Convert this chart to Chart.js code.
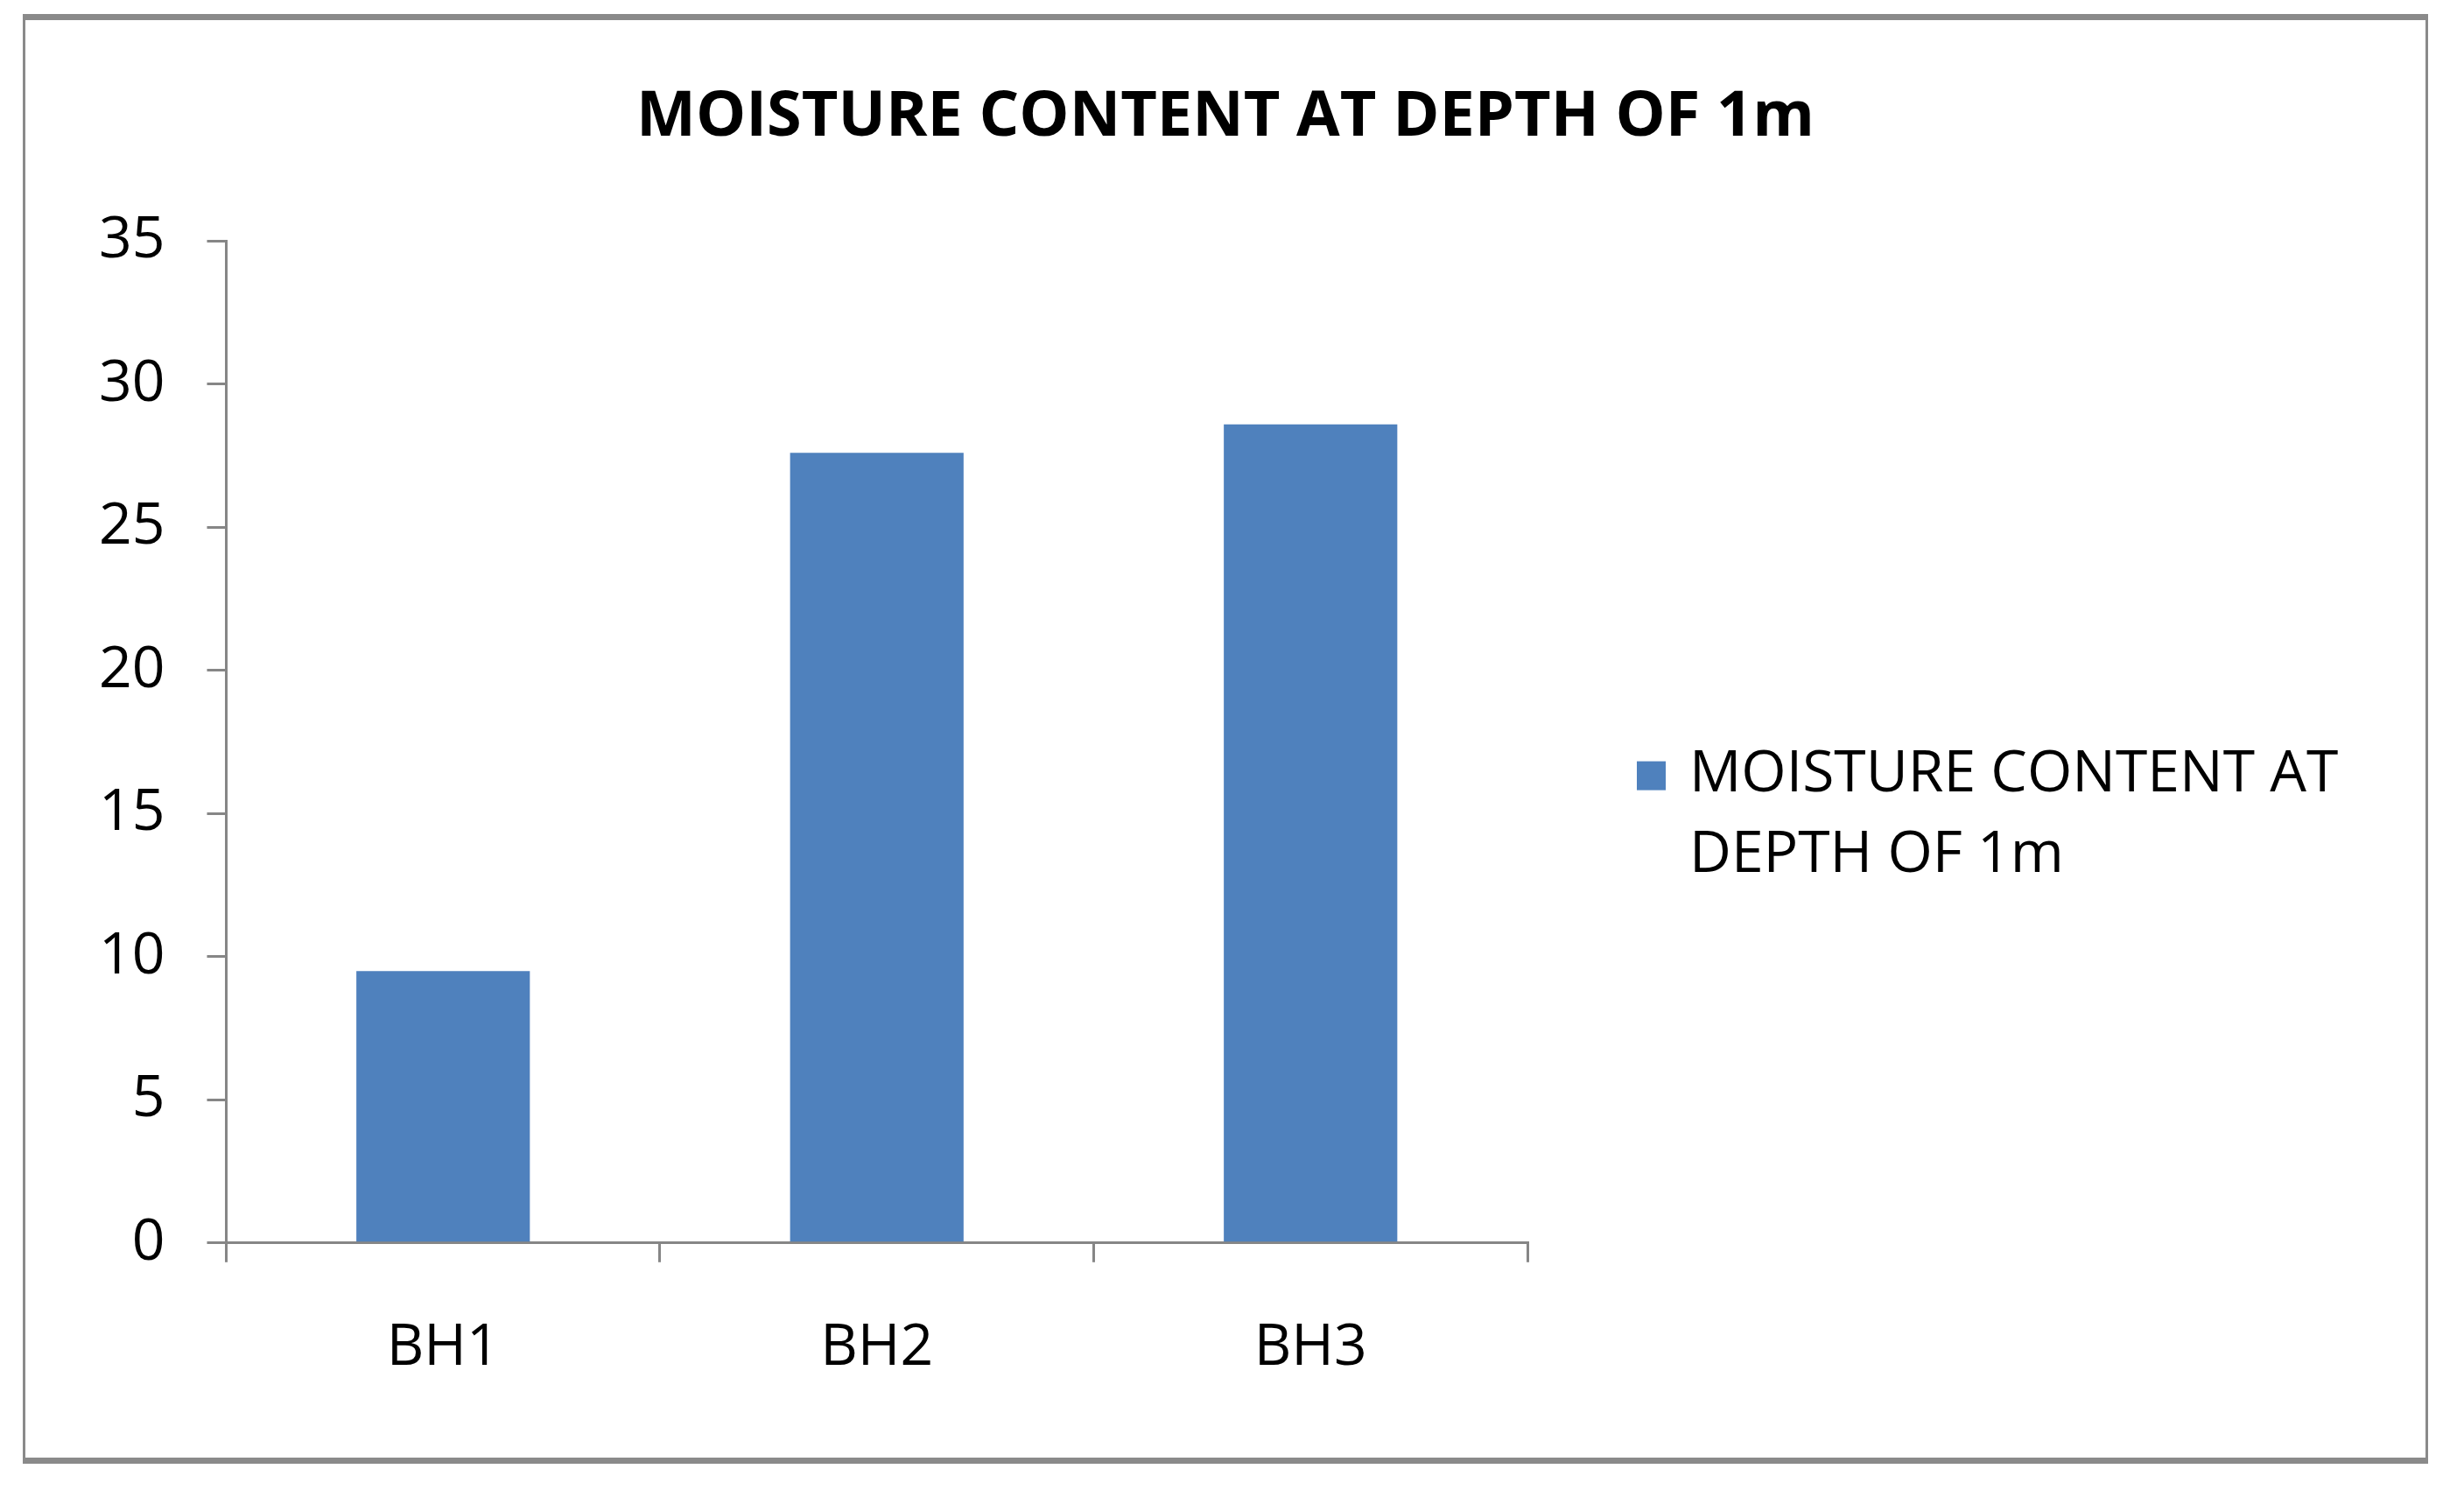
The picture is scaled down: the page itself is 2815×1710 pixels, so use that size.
<!DOCTYPE html>
<html>
<head>
<meta charset="utf-8">
<script src="https://cdn.jsdelivr.net/npm/chart.js@4.4.1/dist/chart.umd.min.js"></script>
<style>
  html, body { margin: 0; padding: 0; background: #fff; }
  body { width: 2815px; height: 1710px; position: relative; overflow: hidden; }
  #frame {
    position: absolute; left: 26px; top: 16px;
    width: 2748px; height: 1656px; box-sizing: border-box;
    border-left: 3px solid #8a8a8a; border-right: 3px solid #8a8a8a;
    border-top: 7px solid #8a8a8a; border-bottom: 7px solid #8a8a8a;
    background: #fff;
  }
  #myChart { display: block; }
</style>
</head>
<body>
<div id="frame"><canvas id="myChart" width="2742" height="1642"></canvas></div>
<script>
const title = 'MOISTURE CONTENT AT DEPTH OF 1m'
const boreholes = ['BH1', 'BH2', 'BH3']
const moisture = [9.5, 27.6, 28.6]
const legendLines = ['MOISTURE CONTENT AT', 'DEPTH OF 1m']
const yTicks = [0, 5, 10, 15, 20, 25, 30, 35]

const axisGrey = '#868686'
const fontFamily = "'Open Sans', 'Noto Sans', sans-serif"

// the built-in legend can't get wide enough on the right, so draw it here
const sideLegend = {
    id: 'sideLegend',
    afterDraw(chart) {
        const {ctx, chartArea} = chart
        const ds = chart.data.datasets[0]
        const boxX = chartArea.right + 125
        const midY = (chartArea.top + chartArea.bottom) / 2 + 84
        const lineGap = 92
        const firstY = midY - lineGap / 2

        ctx.save()
        ctx.fillStyle = ds.backgroundColor
        ctx.fillRect(boxX, firstY - 16, 33, 33)
        ctx.fillStyle = '#000'
        ctx.font = '66px ' + fontFamily
        ctx.textBaseline = 'middle'
        ctx.textAlign = 'left'
        legendLines.forEach((line, i) => {
            ctx.fillText(line, boxX + 60, firstY + i * lineGap)
        })
        ctx.restore()
    }
}

const ctx = document.getElementById('myChart')

new Chart(ctx, {
    type: 'bar',
    data: {
        labels: boreholes,
        datasets: [{
            label: title,
            data: moisture,
            backgroundColor: '#4f81bd',
            borderWidth: 0,
            barPercentage: 0.4,
            categoryPercentage: 1
        }]
    },
    options: {
        responsive: false,
        animation: false,
        layout: {
            padding: { left: 36, right: 36, top: 0, bottom: 26 }
        },
        plugins: {
            title: {
                display: true,
                text: title,
                color: '#000',
                font: { family: fontFamily, size: 72, weight: 'bold', lineHeight: 1.2 },
                padding: { top: 68, bottom: 98 }
            },
            legend: { display: false },
            tooltip: { enabled: false }
        },
        scales: {
            x: {
                grid: {
                    drawOnChartArea: false,
                    drawTicks: true,
                    tickLength: 22,
                    color: axisGrey,
                    lineWidth: 3
                },
                border: { color: axisGrey, width: 3 },
                ticks: {
                    color: '#000',
                    padding: 59,
                    font: { family: fontFamily, size: 66, lineHeight: 1.2 }
                }
            },
            y: {
                min: 0,
                max: 35,
                afterBuildTicks: (axis) => {
                    axis.ticks = yTicks.map(v => ({ value: v }))
                },
                grid: {
                    drawOnChartArea: false,
                    drawTicks: true,
                    tickLength: 22,
                    color: axisGrey,
                    lineWidth: 3
                },
                border: { color: axisGrey, width: 3 },
                ticks: {
                    color: '#000',
                    padding: 48,
                    font: { family: fontFamily, size: 66, lineHeight: 1.2 }
                }
            },
            // empty box on the right that keeps room for the legend
            legendSpace: {
                type: 'linear',
                position: 'right',
                grid: { display: false },
                border: { display: false },
                ticks: { display: false },
                afterFit: (scale) => {
                    scale.width = 990
                }
            }
        }
    },
    plugins: [sideLegend]
})
</script>
</body>
</html>
